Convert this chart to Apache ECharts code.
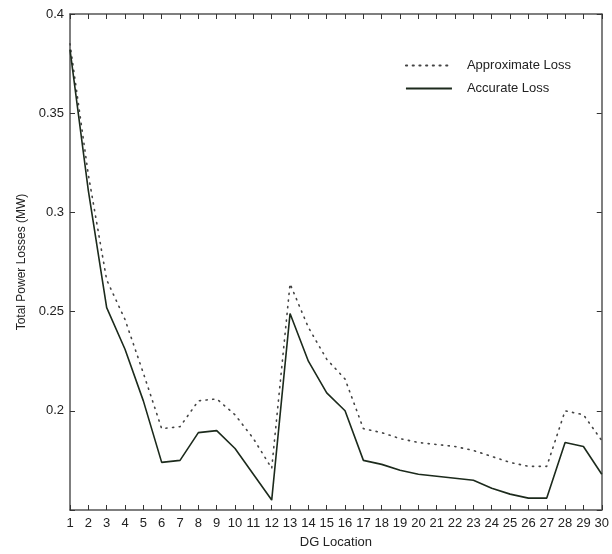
<!DOCTYPE html>
<html>
<head>
<meta charset="utf-8">
<script src="https://cdn.jsdelivr.net/npm/echarts@6/dist/echarts.min.js"></script>
<style>html,body{margin:0;padding:0;background:#fff}#c{width:612px;height:554px}</style>
</head>
<body>
<div id="c"></div>
<script>
const categories = ['1','2','3','4','5','6','7','8','9','10','11','12','13','14','15','16','17','18','19','20','21','22','23','24','25','26','27','28','29','30'];
const approximateLoss = [0.385,0.319,0.266,0.246,0.219,0.191,0.192,0.205,0.206,0.198,0.186,0.171,0.264,0.242,0.226,0.216,0.191,0.189,0.186,0.184,0.183,0.182,0.180,0.177,0.174,0.172,0.172,0.200,0.198,0.185];
const accurateLoss = [0.382,0.311,0.252,0.231,0.205,0.174,0.175,0.189,0.190,0.181,0.168,0.155,0.249,0.225,0.209,0.200,0.175,0.173,0.170,0.168,0.167,0.166,0.165,0.161,0.158,0.156,0.156,0.184,0.182,0.168];
const yTicks = { min: 0.15, max: 0.4, interval: 0.05 };

const font = 'Liberation Sans, Arial, sans-serif';
const axisColor = '#555';
const chart = echarts.init(document.getElementById('c'), null, { renderer: 'canvas' });
const frameLine = { show: true, onZero: false, lineStyle: { color: axisColor, width: 1.5 } };
const tick = { show: true, inside: true, length: 5, lineStyle: { color: '#333', width: 1 } };
chart.setOption({
  animation: false,
  backgroundColor: '#fff',
  grid: { left: 70, right: 8, top: 14, bottom: 44 },
  legend: {
    orient: 'vertical',
    right: 36, top: 54,
    itemWidth: 46, itemHeight: 12, itemGap: 10,
    itemStyle: { opacity: 0, borderWidth: 0 },
    textStyle: { fontFamily: font, fontSize: 13, color: '#222', padding: [0, 0, 0, 10] },
    data: ['Approximate Loss', 'Accurate Loss']
  },
  xAxis: [
    {
      type: 'category', data: categories, boundaryGap: false, position: 'bottom',
      name: 'DG Location', nameLocation: 'middle', nameGap: 26,
      nameTextStyle: { fontFamily: font, fontSize: 13, color: '#222' },
      axisLine: frameLine, axisTick: tick,
      axisLabel: { fontFamily: font, fontSize: 13, color: '#222', margin: 7, interval: 0 },
      splitLine: { show: false }
    },
    {
      type: 'category', data: categories, boundaryGap: false, position: 'top',
      axisLine: frameLine, axisTick: tick, axisLabel: { show: false }, splitLine: { show: false }
    }
  ],
  yAxis: [
    {
      type: 'value', min: yTicks.min, max: yTicks.max, interval: yTicks.interval, position: 'left',
      name: 'Total Power Losses (MW)', nameLocation: 'middle', nameGap: 42,
      nameTextStyle: { fontFamily: font, fontSize: 12, color: '#222' },
      axisLine: frameLine, axisTick: tick,
      axisLabel: { fontFamily: font, fontSize: 13, color: '#222', margin: 6,
        formatter: v => (v < 0.16 ? '' : String(+v.toFixed(2))) },
      splitLine: { show: false }
    },
    {
      type: 'value', min: yTicks.min, max: yTicks.max, interval: yTicks.interval, position: 'right',
      axisLine: frameLine, axisTick: tick, axisLabel: { show: false }, splitLine: { show: false }
    }
  ],
  series: [
    {
      name: 'Approximate Loss', type: 'line', data: approximateLoss, symbol: 'none',
      lineStyle: { color: '#444', width: 1.6, type: [1.2, 5.5], cap: 'round' },
      itemStyle: { color: '#444' }
    },
    {
      name: 'Accurate Loss', type: 'line', data: accurateLoss, symbol: 'none',
      lineStyle: { color: '#1c2a1c', width: 1.6 },
      itemStyle: { color: '#1c2a1c' }
    }
  ]
});
</script>
</body>
</html>
